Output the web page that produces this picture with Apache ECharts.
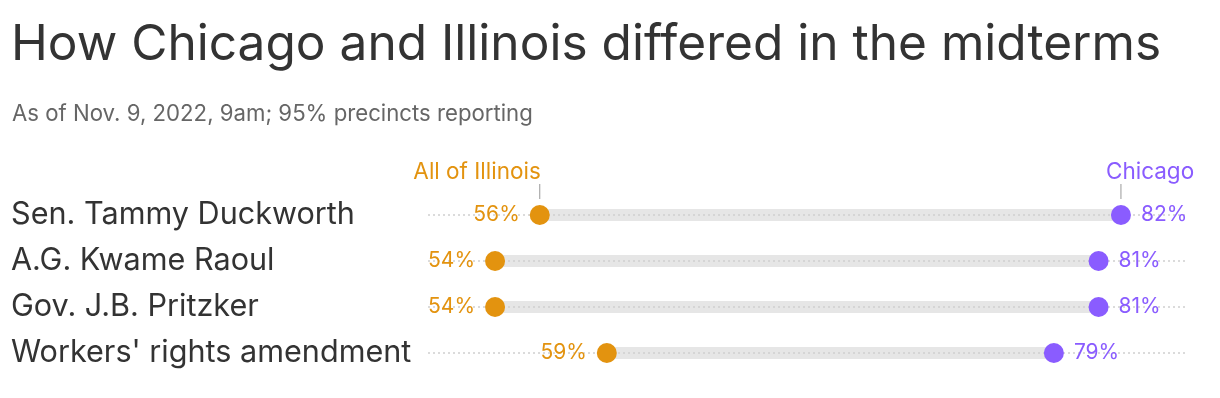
<!DOCTYPE html>
<html>
<head>
<meta charset="utf-8">
<script src="https://cdn.jsdelivr.net/npm/echarts@6/dist/echarts.min.js"></script>
<style>
  html, body { margin: 0; padding: 0; background: #fff; }
  #chart { width: 1220px; height: 398px; }
</style>
</head>
<body>
<div id="chart"></div>
<script>
const categories = ['Sen. Tammy Duckworth', 'A.G. Kwame Raoul', 'Gov. J.B. Pritzker', "Workers' rights amendment"]
const illinois = [56, 54, 54, 59]
const chicago = [82, 81, 81, 79]
const seriesNames = ['All of Illinois', 'Chicago']

const ORANGE = '#e3930f'
const PURPLE = '#8a5cff'
const FONT = 'Inter'

const chart = echarts.init(document.getElementById('chart'))

// gray bar between the two dots + dotted guide line across the whole row
const renderRow = (params, api) => {
    const row = api.value(2)
    const p0 = api.coord([api.value(0), row])
    const p1 = api.coord([api.value(1), row])
    const cs = params.coordSys
    const y = p0[1]
    const children = [
        {
            type: 'rect',
            shape: { x: p0[0], y: y - 6, width: p1[0] - p0[0], height: 12 },
            style: { fill: '#e6e6e6' },
        },
        {
            type: 'line',
            shape: { x1: cs.x, y1: y, x2: cs.x + cs.width, y2: y },
            style: { stroke: '#d0d0d0', lineWidth: 1.5, lineDash: [2, 3] },
        },
    ]
    if (params.dataIndex === 0) {
        children.push(
            {
                type: 'line',
                shape: { x1: p0[0], y1: y - 31, x2: p0[0], y2: y - 16 },
                style: { stroke: '#999', lineWidth: 1 },
            },
            {
                type: 'line',
                shape: { x1: p1[0], y1: y - 31, x2: p1[0], y2: y - 16 },
                style: { stroke: '#999', lineWidth: 1 },
            },
            {
                type: 'text',
                style: {
                    x: p0[0] + 1, y: y - 43, text: seriesNames[0],
                    fill: ORANGE, font: '22.5px ' + FONT, align: 'right', verticalAlign: 'middle',
                },
            },
            {
                type: 'text',
                style: {
                    x: p1[0] - 15, y: y - 43, text: seriesNames[1],
                    fill: PURPLE, font: '22.5px ' + FONT, align: 'left', verticalAlign: 'middle',
                },
            }
        )
    }
    return { type: 'group', children }
}

const dotSeries = (name, values, color, side) => ({
    name,
    type: 'scatter',
    data: values.map((v, i) => [v, i]),
    symbol: 'circle',
    symbolSize: 20,
    itemStyle: { color, opacity: 1 },
    label: {
        show: true,
        position: side,
        distance: 10,
        formatter: (p) => p.value[0] + '%',
        color,
        fontSize: 21,
        fontFamily: FONT,
    },
    emphasis: { disabled: true },
    z: 3,
})

chart.setOption({
    animation: false,
    title: [
        {
            text: 'How Chicago and Illinois differed in the midterms',
            left: 6,
            top: 15,
            textStyle: { fontSize: 49.6, fontWeight: 400, color: '#333', fontFamily: FONT },
        },
        {
            text: 'As of Nov. 9, 2022, 9am; 95% precincts reporting',
            left: 7,
            top: 98,
            textStyle: { fontSize: 22.2, fontWeight: 400, color: '#666', fontFamily: FONT },
        },
    ],
    grid: { left: 428, right: 32, top: 192, bottom: 22 },
    xAxis: {
        type: 'value',
        min: 51,
        max: 85,
        show: false,
    },
    yAxis: {
        type: 'category',
        data: categories,
        inverse: true,
        axisLine: { show: false },
        axisTick: { show: false },
        splitLine: { show: false },
        axisLabel: {
            align: 'left',
            margin: 417,
            color: '#333',
            fontSize: 30.6,
            fontFamily: FONT,
        },
    },
    series: [
        {
            type: 'custom',
            renderItem: renderRow,
            data: illinois.map((v, i) => [v, chicago[i], i]),
            encode: { x: [0, 1], y: 2 },
            silent: true,
            z: 1,
        },
        dotSeries(seriesNames[0], illinois, ORANGE, 'left'),
        dotSeries(seriesNames[1], chicago, PURPLE, 'right'),
    ],
})
</script>
</body>
</html>
